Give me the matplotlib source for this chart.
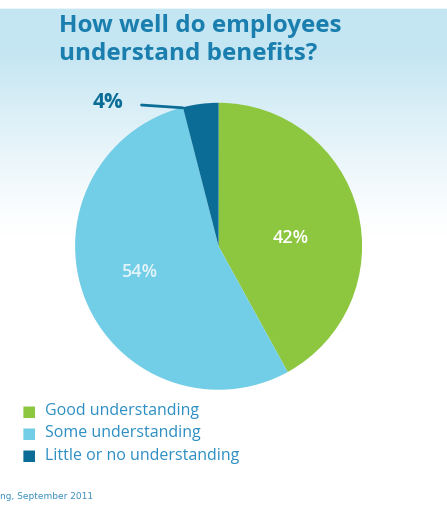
import matplotlib.pyplot as plt
import numpy as np

labels = ["Good understanding", "Some understanding", "Little or no understanding"]
values = [42, 54, 4]
colors = ["#8dc63f", "#72cde6", "#0b6d96"]
title = "How well do employees\nunderstand benefits?"
source = "ng, September 2011"

fig = plt.figure(figsize=(4.47, 5.19), dpi=100)

# faded blue background at the top
bg = fig.add_axes([0, 0, 1, 1], zorder=0)
rows = np.linspace(0, 1, 300)
fade = np.clip((rows - 0.55) / 0.35, 0, 1) ** 1.2
fade[rows > 0.985] = 0
img = np.ones((300, 1, 3))
top = np.array([0.77, 0.90, 0.95])
img[:] = (1 - fade[:, None, None]) * 1.0 + fade[:, None, None] * top
bg.imshow(img, aspect="auto", origin="lower", extent=[0, 1, 0, 1])
bg.set_axis_off()

fig.text(0.133, 0.973, title, ha="left", va="top", fontsize=17.5,
         fontweight="bold", color="#1a7fae", family="Open Sans",
         linespacing=1.2)

ax = fig.add_axes([0.168, 0.245, 0.642, 0.561], zorder=1)
wedges, _ = ax.pie(values, colors=colors, startangle=90, counterclock=False,
                   wedgeprops=dict(linewidth=0))
ax.set_xlim(-1, 1)
ax.set_ylim(-1, 1)
ax.set_aspect("equal")

ax.text(0.5, 0.06, f"{values[0]}%", color="white", fontsize=13,
        fontweight="semibold", ha="center", va="center", family="Open Sans")
ax.text(-0.55, -0.18, f"{values[1]}%", color="#e3f5fb", fontsize=13,
        fontweight="semibold", ha="center", va="center", family="Open Sans")
ax.annotate(f"{values[2]}%", xy=(-0.25, 0.965), xytext=(-0.77, 1.0),
            color="#0b6d96", fontsize=15, fontweight="bold", ha="center",
            va="center", family="Open Sans", annotation_clip=False,
            arrowprops=dict(arrowstyle="-", color="#0b6d96", lw=2,
                            shrinkA=11, shrinkB=0))

for i, (lab, c) in enumerate(zip(labels, colors)):
    y = 0.208 - i * 0.043
    fig.text(0.065, y, "\u25a0", color=c, fontsize=11, ha="center", va="center")
    fig.text(0.1, y, lab, color="#2d8fc4", fontsize=11.5, ha="left", va="center",
             family="Open Sans")

fig.text(0.0, 0.043, source, color="#3a8fc0", fontsize=6.5, ha="left", va="center")

fig.savefig("out.png", dpi=100)
